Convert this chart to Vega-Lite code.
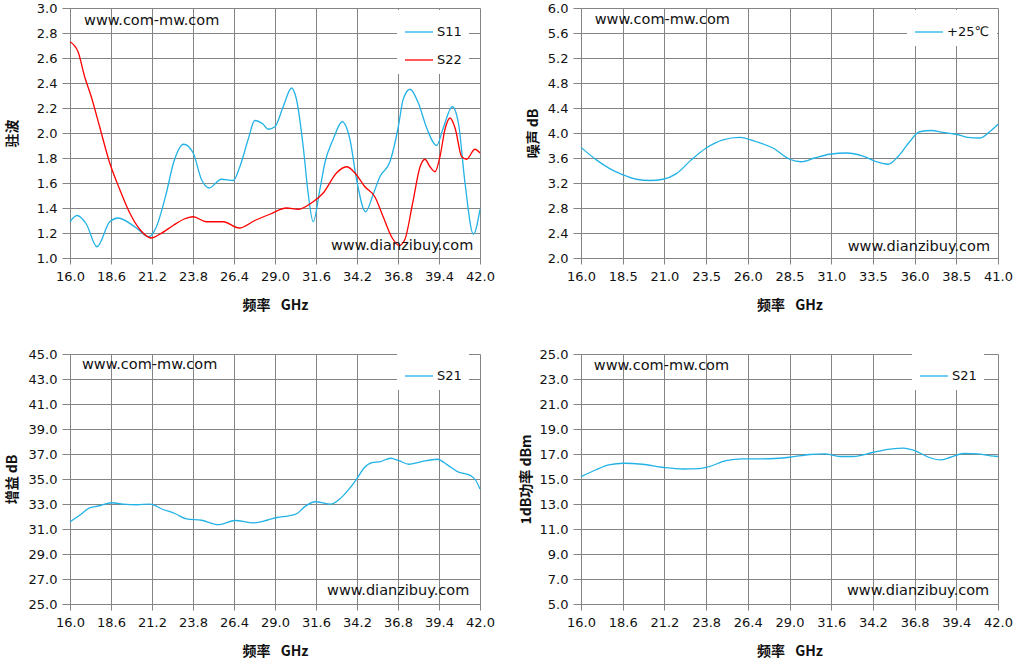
{
  "$schema": "https://vega.github.io/schema/vega-lite/v6.json",
  "padding": {"left": 5, "top": 2, "right": 0, "bottom": 0},
  "background": "white",
  "config": {
    "view": {"stroke": null},
    "axis": {
      "gridColor": "#848484",
      "gridOpacity": 1,
      "domainColor": "#848484",
      "tickColor": "#848484",
      "labelFont": "DejaVu Sans",
      "labelFontSize": 13,
      "labelColor": "#111111",
      "labelFlush": false,
      "labelOverlap": false,
      "titleFont": "Noto Sans CJK SC",
      "titleFontSize": 14,
      "titleFontWeight": "bold",
      "titleColor": "#111111"
    },
    "axisX": {"tickSize": 6, "labelPadding": 6, "titlePadding": 15},
    "axisY": {"tickSize": 8, "labelPadding": 5},
    "legend": {
      "orient": "none",
      "title": null,
      "symbolType": "stroke",
      "symbolSize": 784,
      "symbolStrokeWidth": 1.3,
      "labelFont": "DejaVu Sans",
      "labelFontSize": 13,
      "labelColor": "#111111",
      "labelOffset": 3,
      "fillColor": "white",
      "padding": 7,
      "rowPadding": 6
    },
    "text": {"font": "DejaVu Sans", "fontSize": 14.5, "color": "#111111", "align": "left", "baseline": "middle"}
  },
  "datasets": {
    "vswr": [
      {"freq": 16.0, "value": 1.29, "series": "S11"},
      {"freq": 16.44, "value": 1.34, "series": "S11"},
      {"freq": 17.04, "value": 1.27, "series": "S11"},
      {"freq": 17.71, "value": 1.09, "series": "S11"},
      {"freq": 18.52, "value": 1.29, "series": "S11"},
      {"freq": 19.05, "value": 1.32, "series": "S11"},
      {"freq": 20.21, "value": 1.24, "series": "S11"},
      {"freq": 20.99, "value": 1.17, "series": "S11"},
      {"freq": 21.48, "value": 1.25, "series": "S11"},
      {"freq": 22.11, "value": 1.52, "series": "S11"},
      {"freq": 22.54, "value": 1.75, "series": "S11"},
      {"freq": 23.21, "value": 1.91, "series": "S11"},
      {"freq": 23.81, "value": 1.84, "series": "S11"},
      {"freq": 24.33, "value": 1.63, "series": "S11"},
      {"freq": 24.82, "value": 1.56, "series": "S11"},
      {"freq": 25.6, "value": 1.63, "series": "S11"},
      {"freq": 26.35, "value": 1.62, "series": "S11"},
      {"freq": 26.77, "value": 1.73, "series": "S11"},
      {"freq": 27.3, "value": 1.95, "series": "S11"},
      {"freq": 27.72, "value": 2.1, "series": "S11"},
      {"freq": 28.25, "value": 2.07, "series": "S11"},
      {"freq": 28.57, "value": 2.03, "series": "S11"},
      {"freq": 28.99, "value": 2.05, "series": "S11"},
      {"freq": 29.52, "value": 2.21, "series": "S11"},
      {"freq": 30.05, "value": 2.36, "series": "S11"},
      {"freq": 30.36, "value": 2.27, "series": "S11"},
      {"freq": 30.79, "value": 1.89, "series": "S11"},
      {"freq": 31.1, "value": 1.52, "series": "S11"},
      {"freq": 31.42, "value": 1.29, "series": "S11"},
      {"freq": 31.85, "value": 1.55, "series": "S11"},
      {"freq": 32.16, "value": 1.76, "series": "S11"},
      {"freq": 32.69, "value": 1.95, "series": "S11"},
      {"freq": 33.26, "value": 2.09, "series": "S11"},
      {"freq": 33.75, "value": 1.95, "series": "S11"},
      {"freq": 34.17, "value": 1.63, "series": "S11"},
      {"freq": 34.74, "value": 1.37, "series": "S11"},
      {"freq": 35.23, "value": 1.51, "series": "S11"},
      {"freq": 35.65, "value": 1.65, "series": "S11"},
      {"freq": 36.29, "value": 1.77, "series": "S11"},
      {"freq": 36.82, "value": 2.05, "series": "S11"},
      {"freq": 37.13, "value": 2.27, "series": "S11"},
      {"freq": 37.56, "value": 2.35, "series": "S11"},
      {"freq": 38.09, "value": 2.24, "series": "S11"},
      {"freq": 38.62, "value": 2.04, "series": "S11"},
      {"freq": 39.25, "value": 1.9, "series": "S11"},
      {"freq": 39.67, "value": 2.04, "series": "S11"},
      {"freq": 40.24, "value": 2.21, "series": "S11"},
      {"freq": 40.63, "value": 2.08, "series": "S11"},
      {"freq": 41.05, "value": 1.6, "series": "S11"},
      {"freq": 41.58, "value": 1.19, "series": "S11"},
      {"freq": 42.0, "value": 1.39, "series": "S11"},
      {"freq": 16.0, "value": 2.73, "series": "S22"},
      {"freq": 16.51, "value": 2.65, "series": "S22"},
      {"freq": 16.93, "value": 2.45, "series": "S22"},
      {"freq": 17.35, "value": 2.29, "series": "S22"},
      {"freq": 17.88, "value": 2.05, "series": "S22"},
      {"freq": 18.52, "value": 1.76, "series": "S22"},
      {"freq": 19.15, "value": 1.55, "series": "S22"},
      {"freq": 19.79, "value": 1.36, "series": "S22"},
      {"freq": 20.42, "value": 1.23, "series": "S22"},
      {"freq": 21.16, "value": 1.16, "series": "S22"},
      {"freq": 21.69, "value": 1.19, "series": "S22"},
      {"freq": 22.54, "value": 1.26, "series": "S22"},
      {"freq": 23.21, "value": 1.31, "series": "S22"},
      {"freq": 23.81, "value": 1.33, "series": "S22"},
      {"freq": 24.65, "value": 1.29, "series": "S22"},
      {"freq": 25.71, "value": 1.29, "series": "S22"},
      {"freq": 26.73, "value": 1.24, "series": "S22"},
      {"freq": 27.72, "value": 1.3, "series": "S22"},
      {"freq": 28.67, "value": 1.35, "series": "S22"},
      {"freq": 29.73, "value": 1.4, "series": "S22"},
      {"freq": 30.47, "value": 1.39, "series": "S22"},
      {"freq": 31.42, "value": 1.45, "series": "S22"},
      {"freq": 32.06, "value": 1.52, "series": "S22"},
      {"freq": 32.9, "value": 1.68, "series": "S22"},
      {"freq": 33.54, "value": 1.73, "series": "S22"},
      {"freq": 34.07, "value": 1.68, "series": "S22"},
      {"freq": 34.7, "value": 1.57, "series": "S22"},
      {"freq": 35.33, "value": 1.49, "series": "S22"},
      {"freq": 35.86, "value": 1.33, "series": "S22"},
      {"freq": 36.39, "value": 1.17, "series": "S22"},
      {"freq": 36.88, "value": 1.1, "series": "S22"},
      {"freq": 37.24, "value": 1.15, "series": "S22"},
      {"freq": 37.73, "value": 1.44, "series": "S22"},
      {"freq": 38.2, "value": 1.73, "series": "S22"},
      {"freq": 38.51, "value": 1.79, "series": "S22"},
      {"freq": 38.83, "value": 1.73, "series": "S22"},
      {"freq": 39.15, "value": 1.69, "series": "S22"},
      {"freq": 39.46, "value": 1.81, "series": "S22"},
      {"freq": 39.78, "value": 2.03, "series": "S22"},
      {"freq": 40.1, "value": 2.12, "series": "S22"},
      {"freq": 40.42, "value": 2.04, "series": "S22"},
      {"freq": 40.84, "value": 1.81, "series": "S22"},
      {"freq": 41.15, "value": 1.79, "series": "S22"},
      {"freq": 41.68, "value": 1.87, "series": "S22"},
      {"freq": 42.0, "value": 1.84, "series": "S22"}
    ],
    "noise": [
      {"freq": 16.0, "value": 3.77, "series": "+25℃"},
      {"freq": 16.92, "value": 3.57, "series": "+25℃"},
      {"freq": 17.72, "value": 3.43, "series": "+25℃"},
      {"freq": 18.52, "value": 3.33, "series": "+25℃"},
      {"freq": 19.32, "value": 3.26, "series": "+25℃"},
      {"freq": 20.12, "value": 3.24, "series": "+25℃"},
      {"freq": 20.92, "value": 3.26, "series": "+25℃"},
      {"freq": 21.72, "value": 3.35, "series": "+25℃"},
      {"freq": 22.61, "value": 3.57, "series": "+25℃"},
      {"freq": 23.51, "value": 3.76, "series": "+25℃"},
      {"freq": 24.51, "value": 3.89, "series": "+25℃"},
      {"freq": 25.51, "value": 3.93, "series": "+25℃"},
      {"freq": 26.51, "value": 3.86, "series": "+25℃"},
      {"freq": 27.51, "value": 3.76, "series": "+25℃"},
      {"freq": 28.51, "value": 3.58, "series": "+25℃"},
      {"freq": 29.21, "value": 3.54, "series": "+25℃"},
      {"freq": 30.01, "value": 3.6, "series": "+25℃"},
      {"freq": 30.91, "value": 3.66, "series": "+25℃"},
      {"freq": 31.91, "value": 3.68, "series": "+25℃"},
      {"freq": 32.91, "value": 3.63, "series": "+25℃"},
      {"freq": 33.71, "value": 3.54, "series": "+25℃"},
      {"freq": 34.41, "value": 3.5, "series": "+25℃"},
      {"freq": 35.0, "value": 3.62, "series": "+25℃"},
      {"freq": 35.7, "value": 3.86, "series": "+25℃"},
      {"freq": 36.3, "value": 4.02, "series": "+25℃"},
      {"freq": 37.0, "value": 4.04, "series": "+25℃"},
      {"freq": 37.7, "value": 4.01, "series": "+25℃"},
      {"freq": 38.5, "value": 3.98, "series": "+25℃"},
      {"freq": 39.2, "value": 3.93, "series": "+25℃"},
      {"freq": 39.9, "value": 3.92, "series": "+25℃"},
      {"freq": 40.5, "value": 4.02, "series": "+25℃"},
      {"freq": 41.0, "value": 4.14, "series": "+25℃"}
    ],
    "gain": [
      {"freq": 16.0, "value": 31.57, "series": "S21"},
      {"freq": 16.61, "value": 32.1, "series": "S21"},
      {"freq": 17.25, "value": 32.69, "series": "S21"},
      {"freq": 17.88, "value": 32.86, "series": "S21"},
      {"freq": 18.63, "value": 33.1, "series": "S21"},
      {"freq": 19.37, "value": 32.99, "series": "S21"},
      {"freq": 20.22, "value": 32.94, "series": "S21"},
      {"freq": 21.06, "value": 32.99, "series": "S21"},
      {"freq": 21.91, "value": 32.56, "series": "S21"},
      {"freq": 22.65, "value": 32.24, "series": "S21"},
      {"freq": 23.39, "value": 31.81, "series": "S21"},
      {"freq": 24.35, "value": 31.7, "series": "S21"},
      {"freq": 25.41, "value": 31.35, "series": "S21"},
      {"freq": 26.47, "value": 31.68, "series": "S21"},
      {"freq": 27.63, "value": 31.49, "series": "S21"},
      {"freq": 28.49, "value": 31.7, "series": "S21"},
      {"freq": 29.13, "value": 31.92, "series": "S21"},
      {"freq": 29.87, "value": 32.05, "series": "S21"},
      {"freq": 30.4, "value": 32.24, "series": "S21"},
      {"freq": 30.93, "value": 32.83, "series": "S21"},
      {"freq": 31.56, "value": 33.18, "series": "S21"},
      {"freq": 32.52, "value": 32.99, "series": "S21"},
      {"freq": 33.15, "value": 33.45, "series": "S21"},
      {"freq": 33.68, "value": 34.17, "series": "S21"},
      {"freq": 34.21, "value": 35.05, "series": "S21"},
      {"freq": 34.63, "value": 35.86, "series": "S21"},
      {"freq": 35.16, "value": 36.31, "series": "S21"},
      {"freq": 35.69, "value": 36.39, "series": "S21"},
      {"freq": 36.33, "value": 36.66, "series": "S21"},
      {"freq": 36.86, "value": 36.47, "series": "S21"},
      {"freq": 37.49, "value": 36.18, "series": "S21"},
      {"freq": 38.23, "value": 36.37, "series": "S21"},
      {"freq": 39.29, "value": 36.58, "series": "S21"},
      {"freq": 39.93, "value": 36.13, "series": "S21"},
      {"freq": 40.57, "value": 35.59, "series": "S21"},
      {"freq": 41.41, "value": 35.27, "series": "S21"},
      {"freq": 41.72, "value": 34.92, "series": "S21"},
      {"freq": 42.0, "value": 34.2, "series": "S21"}
    ],
    "p1db": [
      {"freq": 16.0, "value": 15.19, "series": "S21"},
      {"freq": 16.9, "value": 15.72, "series": "S21"},
      {"freq": 17.73, "value": 16.13, "series": "S21"},
      {"freq": 18.67, "value": 16.26, "series": "S21"},
      {"freq": 19.82, "value": 16.18, "series": "S21"},
      {"freq": 21.08, "value": 15.94, "series": "S21"},
      {"freq": 22.33, "value": 15.8, "series": "S21"},
      {"freq": 23.37, "value": 15.83, "series": "S21"},
      {"freq": 24.0, "value": 15.99, "series": "S21"},
      {"freq": 25.04, "value": 16.47, "series": "S21"},
      {"freq": 26.09, "value": 16.61, "series": "S21"},
      {"freq": 27.34, "value": 16.61, "series": "S21"},
      {"freq": 29.01, "value": 16.74, "series": "S21"},
      {"freq": 30.26, "value": 16.96, "series": "S21"},
      {"freq": 31.2, "value": 17.01, "series": "S21"},
      {"freq": 32.14, "value": 16.8, "series": "S21"},
      {"freq": 32.98, "value": 16.8, "series": "S21"},
      {"freq": 34.23, "value": 17.14, "series": "S21"},
      {"freq": 35.27, "value": 17.39, "series": "S21"},
      {"freq": 36.11, "value": 17.47, "series": "S21"},
      {"freq": 36.84, "value": 17.25, "series": "S21"},
      {"freq": 37.68, "value": 16.74, "series": "S21"},
      {"freq": 38.41, "value": 16.53, "series": "S21"},
      {"freq": 39.04, "value": 16.74, "series": "S21"},
      {"freq": 39.87, "value": 17.04, "series": "S21"},
      {"freq": 40.71, "value": 17.01, "series": "S21"},
      {"freq": 41.54, "value": 16.85, "series": "S21"},
      {"freq": 42.0, "value": 16.8, "series": "S21"}
    ]
  },
  "columns": 2,
  "spacing": {"row": 96, "column": 101},
  "bounds": "flush",
  "resolve": {
    "scale": {"x": "independent", "y": "independent", "color": "independent"},
    "legend": {"color": "independent"}
  },
  "concat": [
    {
      "width": 410,
      "height": 250,
      "layer": [
        {
          "data": {"name": "vswr"},
          "mark": {"type": "line", "interpolate": "monotone", "strokeWidth": 1.3},
          "encoding": {
            "x": {
              "field": "freq", "type": "quantitative",
              "scale": {"domain": [16, 42], "nice": false, "zero": false},
              "axis": {"values": [16, 18.6, 21.2, 23.8, 26.4, 29, 31.6, 34.2, 36.8, 39.4, 42], "tickCount": 11, "format": ".1f", "title": "频率\u2002 GHz"}
            },
            "y": {
              "field": "value", "type": "quantitative",
              "scale": {"domain": [1, 3], "nice": false, "zero": false},
              "axis": {"values": [1, 1.2, 1.4, 1.6, 1.8, 2, 2.2, 2.4, 2.6, 2.8, 3], "tickCount": 11, "format": ".1f", "title": "驻波", "titlePadding": 17}
            },
            "color": {
              "field": "series", "type": "nominal",
              "scale": {"domain": ["S11", "S22"], "range": ["#22B2E6", "#FF0000"]},
              "legend": {"legendX": 327, "legendY": 2}
            }
          }
        },
        {
          "data": {"values": [{"site": "www.com-mw.com"}]},
          "mark": {"type": "text"},
          "encoding": {"x": {"datum": 16.89}, "y": {"datum": 2.9}, "text": {"field": "site"}}
        },
        {
          "data": {"values": [{"site": "www.dianzibuy.com"}]},
          "mark": {"type": "text"},
          "encoding": {"x": {"datum": 32.55}, "y": {"datum": 1.1}, "text": {"field": "site"}}
        }
      ]
    },
    {
      "width": 417,
      "height": 250,
      "layer": [
        {
          "data": {"name": "noise"},
          "mark": {"type": "line", "interpolate": "monotone", "strokeWidth": 1.3},
          "encoding": {
            "x": {
              "field": "freq", "type": "quantitative",
              "scale": {"domain": [16, 41], "nice": false, "zero": false},
              "axis": {"values": [16, 18.5, 21, 23.5, 26, 28.5, 31, 33.5, 36, 38.5, 41], "tickCount": 11, "format": ".1f", "title": "频率\u2002 GHz"}
            },
            "y": {
              "field": "value", "type": "quantitative",
              "scale": {"domain": [2, 6], "nice": false, "zero": false},
              "axis": {"values": [2, 2.4, 2.8, 3.2, 3.6, 4, 4.4, 4.8, 5.2, 5.6, 6], "tickCount": 11, "format": ".1f", "title": "噪声 dB", "titlePadding": 7}
            },
            "color": {
              "field": "series", "type": "nominal",
              "scale": {"domain": ["+25℃"], "range": ["#22B2E6"]},
              "legend": {"legendX": 326, "legendY": 2}
            }
          }
        },
        {
          "data": {"values": [{"site": "www.com-mw.com"}]},
          "mark": {"type": "text"},
          "encoding": {"x": {"datum": 16.82}, "y": {"datum": 5.81}, "text": {"field": "site"}}
        },
        {
          "data": {"values": [{"site": "www.dianzibuy.com"}]},
          "mark": {"type": "text"},
          "encoding": {"x": {"datum": 31.99}, "y": {"datum": 2.17}, "text": {"field": "site"}}
        }
      ]
    },
    {
      "width": 410,
      "height": 250,
      "layer": [
        {
          "data": {"name": "gain"},
          "mark": {"type": "line", "interpolate": "monotone", "strokeWidth": 1.3},
          "encoding": {
            "x": {
              "field": "freq", "type": "quantitative",
              "scale": {"domain": [16, 42], "nice": false, "zero": false},
              "axis": {"values": [16, 18.6, 21.2, 23.8, 26.4, 29, 31.6, 34.2, 36.8, 39.4, 42], "tickCount": 11, "format": ".1f", "title": "频率\u2002 GHz"}
            },
            "y": {
              "field": "value", "type": "quantitative",
              "scale": {"domain": [25, 45], "nice": false, "zero": false},
              "axis": {"values": [25, 27, 29, 31, 33, 35, 37, 39, 41, 43, 45], "tickCount": 11, "format": ".1f", "title": "增益 dB", "titlePadding": 9}
            },
            "color": {
              "field": "series", "type": "nominal",
              "scale": {"domain": ["S21"], "range": ["#22B2E6"]},
              "legend": {"legendX": 327, "legendY": 0}
            }
          }
        },
        {
          "data": {"values": [{"site": "www.com-mw.com"}]},
          "mark": {"type": "text"},
          "encoding": {"x": {"datum": 16.76}, "y": {"datum": 44.09}, "text": {"field": "site"}}
        },
        {
          "data": {"values": [{"site": "www.dianzibuy.com"}]},
          "mark": {"type": "text"},
          "encoding": {"x": {"datum": 32.3}, "y": {"datum": 26.07}, "text": {"field": "site"}}
        }
      ]
    },
    {
      "width": 417,
      "height": 250,
      "layer": [
        {
          "data": {"name": "p1db"},
          "mark": {"type": "line", "interpolate": "monotone", "strokeWidth": 1.3},
          "encoding": {
            "x": {
              "field": "freq", "type": "quantitative",
              "scale": {"domain": [16, 42], "nice": false, "zero": false},
              "axis": {"values": [16, 18.6, 21.2, 23.8, 26.4, 29, 31.6, 34.2, 36.8, 39.4, 42], "tickCount": 11, "format": ".1f", "title": "频率\u2002 GHz"}
            },
            "y": {
              "field": "value", "type": "quantitative",
              "scale": {"domain": [5, 25], "nice": false, "zero": false},
              "axis": {"values": [5, 7, 9, 11, 13, 15, 17, 19, 21, 23, 25], "tickCount": 11, "format": ".1f", "title": "1dB功率 dBm", "titlePadding": 6}
            },
            "color": {
              "field": "series", "type": "nominal",
              "scale": {"domain": ["S21"], "range": ["#22B2E6"]},
              "legend": {"legendX": 331, "legendY": 0}
            }
          }
        },
        {
          "data": {"values": [{"site": "www.com-mw.com"}]},
          "mark": {"type": "text"},
          "encoding": {"x": {"datum": 16.8}, "y": {"datum": 24.01}, "text": {"field": "site"}}
        },
        {
          "data": {"values": [{"site": "www.dianzibuy.com"}]},
          "mark": {"type": "text"},
          "encoding": {"x": {"datum": 32.58}, "y": {"datum": 6.07}, "text": {"field": "site"}}
        }
      ]
    }
  ]
}
